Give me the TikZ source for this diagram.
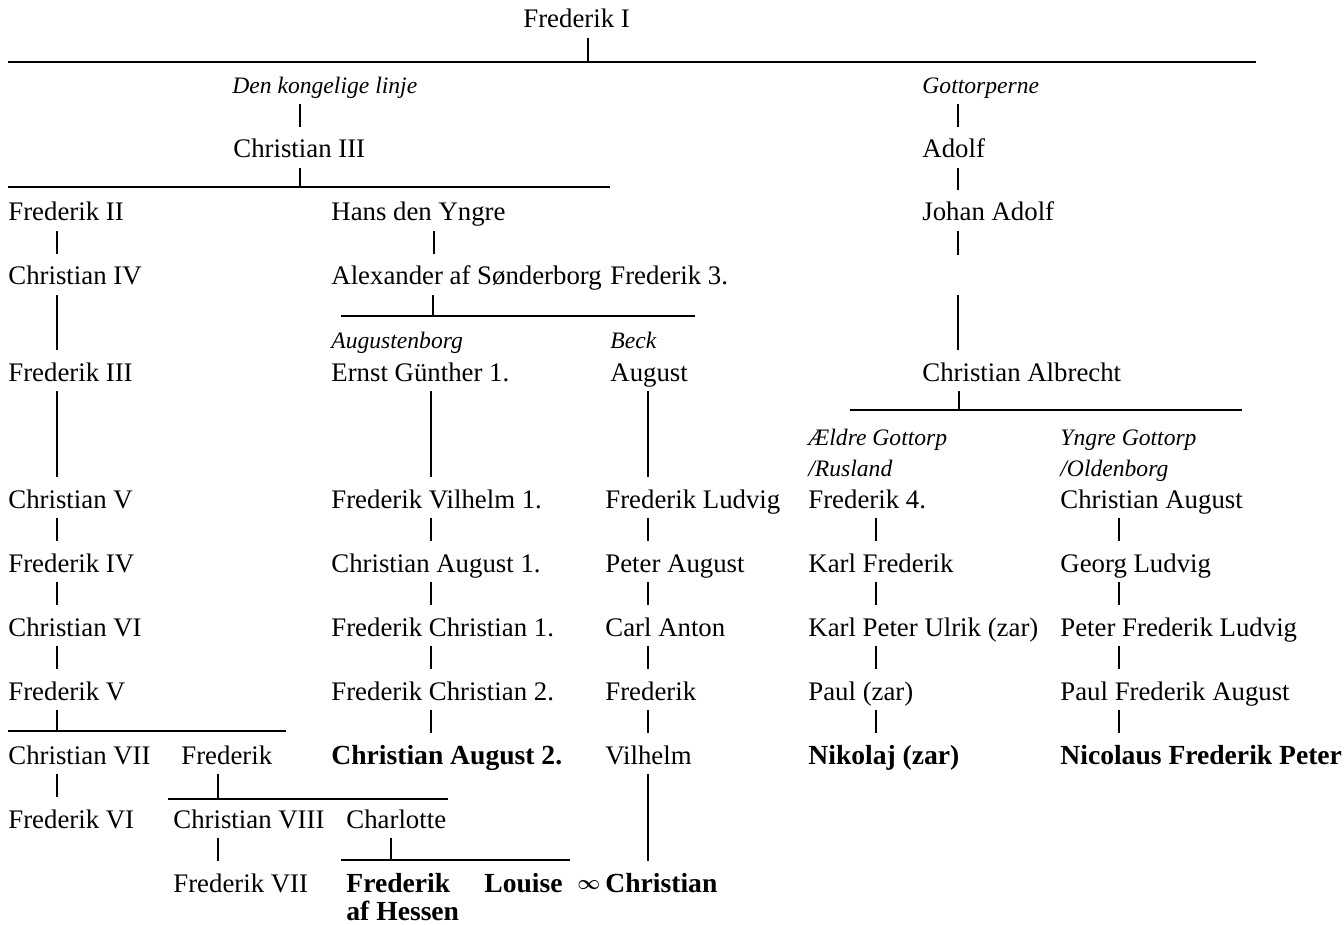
\documentclass[tikz,border=0pt]{standalone}
\usepackage{fontspec}
\setmainfont{Liberation Serif}

\begin{document}
\begin{tikzpicture}[
  x=0.5pt, y=-0.5pt,
  pers/.style  = {anchor=base west, inner xsep=0pt, inner ysep=2pt, text height=9.5pt, text depth=3pt, font=\fontsize{13.4}{15}\selectfont},
  house/.style = {pers, font=\fontsize{11.8}{13}\selectfont\itshape},
  heir/.style  = {pers, font=\fontsize{13.8}{15}\selectfont\bfseries},
  line/.style  = {line width=1pt},
  bar/.style   = {line width=1.2pt},
  tick/.style  = {line width=1pt, shorten >=4pt},
]
\useasboundingbox (0,0) rectangle (1344,925);
%%--- columns of the vertical strokes ---
\coordinate (kx) at (57,0);   \coordinate (hx) at (434,0);  \coordinate (ax) at (431,0);
\coordinate (bx) at (648,0);  \coordinate (gx) at (958,0);  \coordinate (ex) at (876,0);
\coordinate (yx) at (1119,0);
%%--- Frederik I and the two lines ---
\node[pers]  (fr1)  at (523,28)  {Frederik I};
\node[house] (kong) at (232,94)  {Den kongelige linje};
\node[house] (gott) at (922,94)  {Gottorperne};
\coordinate (b1w) at (8,62); \coordinate (b1e) at (1256,62); \coordinate (b1t) at (588,62);
\draw[bar] (b1w)--(b1e); \draw[line] (fr1.south -| b1t)--(b1t);
%%--- Den kongelige linje ---
\node[pers] (ch3)  at (233,158) {Christian III};
\coordinate (b2w) at (8,187); \coordinate (b2e) at (610,187); \coordinate (b2t) at (300,187);
\draw[tick] (kong.south -| b2t)--(ch3.north -| b2t);
\draw[bar] (b2w)--(b2e); \draw[line] (ch3.south -| b2t)--(b2t);
\node[pers] (fr2)  at (8,221)   {Frederik II};
\node[pers] (ch4)  at (8,285)   {Christian IV};
\node[pers] (fr3)  at (8,381)   {Frederik III};
\node[pers] (ch5)  at (8,508)   {Christian V};
\node[pers] (fr4)  at (8,572)   {Frederik IV};
\node[pers] (ch6)  at (8,636)   {Christian VI};
\node[pers] (fr5)  at (8,700)   {Frederik V};
\node[pers] (ch7)  at (8,764)   {Christian VII};
\node[pers] (fr6)  at (8,828)   {Frederik VI};
\draw[tick] (fr2.south -| kx)--(ch4.north -| kx); \draw[tick] (ch4.south -| kx)--(fr3.north -| kx);
\draw[tick] (fr3.south -| kx)--(ch5.north -| kx); \draw[tick] (ch5.south -| kx)--(fr4.north -| kx);
\draw[tick] (fr4.south -| kx)--(ch6.north -| kx); \draw[tick] (ch6.south -| kx)--(fr5.north -| kx);
\coordinate (b5w) at (8,731); \coordinate (b5e) at (286,731); \coordinate (b5t) at (57,731);
\draw[bar] (b5w)--(b5e); \draw[line] (fr5.south -| b5t)--(b5t);
\draw[tick] (ch7.south -| kx)--(fr6.north -| kx);
%% Frederik, Christian VIII, Charlotte
\node[pers] (fred)  at (181,764) {Frederik};
\node[pers] (ch8)   at (173,828) {Christian VIII};
\node[pers] (charl) at (346,828) {Charlotte};
\node[pers] (fr7)   at (173,892) {Frederik VII};
\coordinate (b6w) at (168,799); \coordinate (b6e) at (448,799); \coordinate (b6t) at (218,799);
\draw[bar] (b6w)--(b6e); \draw[line] (fred.south -| b6t)--(b6t);
\draw[tick] (ch8.south -| b6t)--(fr7.north -| b6t);
\coordinate (b7w) at (341,860); \coordinate (b7e) at (570,860); \coordinate (b7t) at (391,860);
\draw[bar] (b7w)--(b7e); \draw[line] (charl.south -| b7t)--(b7t);
\node[heir] (fhes)   at (346,892) {Frederik};
\node[heir, text depth=0pt, inner ysep=0pt] (hessen) at (346,920) {af Hessen};
\node[heir] (louise) at (484,892) {Louise};
\node[pers, font=\fontsize{10}{11}\selectfont\boldmath] (marr) at (577,889) {$\infty$};
\node[heir] (chr9)   at (605,892) {Christian};
%%--- Hans den Yngre: Augustenborg and Beck ---
\node[pers] (hans)  at (331,221) {Hans den Yngre};
\node[pers] (alex)  at (331,285) {Alexander af Sønderborg};
\node[pers] (fr3n)  at (610,285) {Frederik 3.};
\draw[tick] (hans.south -| hx)--(alex.north -| hx);
\coordinate (b3w) at (341,316); \coordinate (b3e) at (695,316); \coordinate (b3t) at (433,316);
\draw[bar] (b3w)--(b3e); \draw[line] (alex.south -| b3t)--(b3t);
\node[house] (augb)   at (331,349) {Augustenborg};
\node[pers]  (ernst)  at (331,381) {Ernst Günther 1.};
\node[pers]  (fvil)   at (331,508) {Frederik Vilhelm 1.};
\node[pers]  (chaug1) at (331,572) {Christian August 1.};
\node[pers]  (fchr1)  at (331,636) {Frederik Christian 1.};
\node[pers]  (fchr2)  at (331,700) {Frederik Christian 2.};
\node[heir]  (chaug2) at (331,764) {Christian August 2.};
\draw[tick] (ernst.south -| ax)--(fvil.north -| ax);   \draw[tick] (fvil.south -| ax)--(chaug1.north -| ax);
\draw[tick] (chaug1.south -| ax)--(fchr1.north -| ax); \draw[tick] (fchr1.south -| ax)--(fchr2.north -| ax);
\draw[tick] (fchr2.south -| ax)--(chaug2.north -| ax);
\node[house] (beck)   at (610,349) {Beck};
\node[pers]  (august) at (610,381) {August};
\node[pers]  (flud)   at (605,508) {Frederik Ludvig};
\node[pers]  (paug)   at (605,572) {Peter August};
\node[pers]  (carl)   at (605,636) {Carl Anton};
\node[pers]  (fredb)  at (605,700) {Frederik};
\node[pers]  (vilh)   at (605,764) {Vilhelm};
\draw[tick] (august.south -| bx)--(flud.north -| bx); \draw[tick] (flud.south -| bx)--(paug.north -| bx);
\draw[tick] (paug.south -| bx)--(carl.north -| bx);   \draw[tick] (carl.south -| bx)--(fredb.north -| bx);
\draw[tick] (fredb.south -| bx)--(vilh.north -| bx);  \draw[tick] (vilh.south -| bx)--(chr9.north -| bx);
%%--- Gottorperne ---
\node[pers] (adolf) at (922,158) {Adolf};
\node[pers] (johad) at (922,221) {Johan Adolf};
\node[pers] (calb)  at (922,381) {Christian Albrecht};
\coordinate (gapa) at (958,255); \coordinate (gapb) at (958,295);
\draw[tick] (gott.south -| gx)--(adolf.north -| gx); \draw[tick] (adolf.south -| gx)--(johad.north -| gx);
\draw[line] (johad.south -| gx)--(gapa); \draw[tick] (gapb)--(calb.north -| gx);
\coordinate (b4w) at (850,410); \coordinate (b4e) at (1242,410); \coordinate (b4t) at (959,410);
\draw[bar] (b4w)--(b4e); \draw[line] (calb.south -| b4t)--(b4t);
%% Ældre Gottorp / Rusland
\node[house] (aeld) at (808,445) {Ældre Gottorp};
\node[house] (rus)  at (808,476) {/Rusland};
\node[pers]  (fr4n) at (808,508) {Frederik 4.};
\node[pers]  (karlf) at (808,572) {Karl Frederik};
\node[pers]  (kpu)  at (808,636) {Karl Peter Ulrik (zar)};
\node[pers]  (paul) at (808,700) {Paul (zar)};
\node[heir]  (nik)  at (808,764) {Nikolaj (zar)};
\draw[tick] (fr4n.south -| ex)--(karlf.north -| ex); \draw[tick] (karlf.south -| ex)--(kpu.north -| ex);
\draw[tick] (kpu.south -| ex)--(paul.north -| ex);   \draw[tick] (paul.south -| ex)--(nik.north -| ex);
%% Yngre Gottorp / Oldenborg
\node[house] (yngr)  at (1060,445) {Yngre Gottorp};
\node[house] (old)   at (1060,476) {/Oldenborg};
\node[pers]  (chaug) at (1060,508) {Christian August};
\node[pers]  (georg) at (1060,572) {Georg Ludvig};
\node[pers]  (pfl)   at (1060,636) {Peter Frederik Ludvig};
\node[pers]  (pfa)   at (1060,700) {Paul Frederik August};
\node[heir]  (nfp)   at (1060,764) {Nicolaus Frederik Peter};
\draw[tick] (chaug.south -| yx)--(georg.north -| yx); \draw[tick] (georg.south -| yx)--(pfl.north -| yx);
\draw[tick] (pfl.south -| yx)--(pfa.north -| yx);     \draw[tick] (pfa.south -| yx)--(nfp.north -| yx);
\end{tikzpicture}
\end{document}
